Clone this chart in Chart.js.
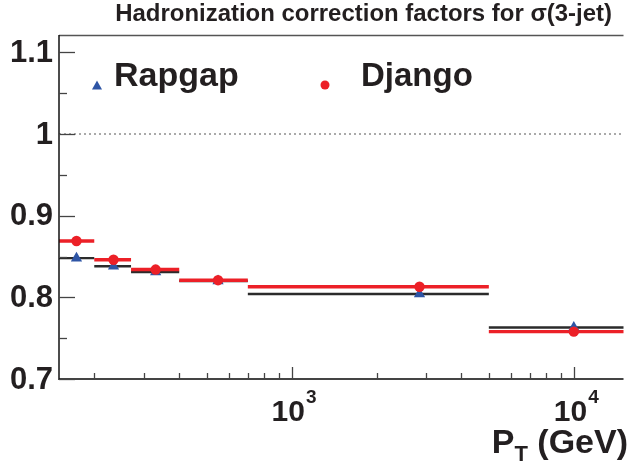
<!DOCTYPE html>
<html>
<head>
<meta charset="utf-8">
<script src="https://cdn.jsdelivr.net/npm/chart.js@4/dist/chart.umd.min.js"></script>
<style>
  html, body { margin: 0; padding: 0; background: #fff; }
  #wrap { width: 630px; height: 462px; }
</style>
</head>
<body>
<div id="wrap"><canvas id="c" width="630" height="462"></canvas></div>
<script>
// PT bins (GeV) and hadronization correction factors per generator
const binLow  = [150, 200, 270, 400, 700, 5000];
const binHigh = [200, 270, 400, 700, 5000, 20000];
const meanPt  = [173, 234, 330, 549, 2840, 10000];
const rapgap  = [0.848, 0.838, 0.831, 0.820, 0.804, 0.763];
const django  = [0.869, 0.846, 0.834, 0.821, 0.813, 0.758];

const yMajorTicks = [0.7, 0.8, 0.9, 1, 1.1];
const yTickLabels = ['0.7', '0.8', '0.9', '1', '1.1'];
const yMinorTicks = [0.75, 0.85, 0.95, 1.05];
const xMajorTicks = [1000, 10000];
const xTickExponents = ['3', '4'];
const xMinorTicks = [200, 300, 400, 500, 600, 700, 800, 900,
                     2000, 3000, 4000, 5000, 6000, 7000, 8000, 9000];
const referenceLevel = [1];
const seriesNames = ['Rapgap', 'Django'];
const titleText = 'Hadronization correction factors for \u03C3(3-jet)';

const RED = '#ec2027';
const BLUE = '#2e55a5';
const DARK = '#2b2b2b';
const INK = '#231f20';
const FONT = '"Liberation Sans", Arial, Helvetica, sans-serif';

// horizontal segments spanning each bin, separated by gaps
function binSegments(values) {
  const pts = [];
  values.forEach((v, i) => {
    pts.push({ x: binLow[i], y: v });
    pts.push({ x: binHigh[i], y: v });
    pts.push({ x: binHigh[i], y: null });
  });
  return pts;
}
function markers(values) {
  return values.map((v, i) => ({ x: meanPt[i], y: v }));
}

const axisPlugin = {
  id: 'axisDecor',
  afterDatasetsDraw(chart) {
    const ctx = chart.ctx;
    const a = chart.chartArea;
    const xs = chart.scales.x, ys = chart.scales.y;
    ctx.save();

    // frame
    ctx.strokeStyle = '#555';
    ctx.lineWidth = 1.5;
    ctx.beginPath(); ctx.moveTo(a.left, a.top - 0.5); ctx.lineTo(a.right, a.top - 0.5); ctx.stroke();
    ctx.strokeStyle = '#444';
    ctx.lineWidth = 2;
    ctx.beginPath(); ctx.moveTo(a.left, a.bottom); ctx.lineTo(a.right, a.bottom); ctx.stroke();
    ctx.strokeStyle = '#111';
    ctx.lineWidth = 1.5;
    ctx.beginPath(); ctx.moveTo(a.left, a.top - 1); ctx.lineTo(a.left, a.bottom + 1); ctx.stroke();

    // y ticks
    ctx.strokeStyle = '#444';
    ctx.lineWidth = 1.3;
    yMajorTicks.forEach(v => {
      const y = Math.round(ys.getPixelForValue(v)) + 0.5;
      ctx.beginPath(); ctx.moveTo(a.left, y); ctx.lineTo(a.left + 16, y); ctx.stroke();
    });
    yMinorTicks.forEach(v => {
      const y = Math.round(ys.getPixelForValue(v)) + 0.5;
      ctx.beginPath(); ctx.moveTo(a.left, y); ctx.lineTo(a.left + 8, y); ctx.stroke();
    });
    // x ticks
    xMajorTicks.forEach(v => {
      const x = Math.round(xs.getPixelForValue(v)) + 0.5;
      ctx.beginPath(); ctx.moveTo(x, a.bottom); ctx.lineTo(x, a.bottom - 12); ctx.stroke();
    });
    xMinorTicks.forEach(v => {
      const x = Math.round(xs.getPixelForValue(v)) + 0.5;
      ctx.beginPath(); ctx.moveTo(x, a.bottom); ctx.lineTo(x, a.bottom - 6); ctx.stroke();
    });

    // y tick labels
    ctx.fillStyle = INK;
    ctx.font = 'bold 31px ' + FONT;
    ctx.textAlign = 'right';
    ctx.textBaseline = 'middle';
    yMajorTicks.forEach((v, i) => {
      ctx.fillText(yTickLabels[i], a.left - 6, ys.getPixelForValue(v) + 1);
    });

    // x tick labels: 10^n
    ctx.textBaseline = 'alphabetic';
    xMajorTicks.forEach((v, i) => {
      const x = xs.getPixelForValue(v);
      ctx.font = 'bold 30px ' + FONT;
      const wBase = ctx.measureText('10').width;
      ctx.font = 'bold 19px ' + FONT;
      const wExp = ctx.measureText(xTickExponents[i]).width;
      const start = x - (wBase + wExp) / 2 + 2;
      ctx.textAlign = 'left';
      ctx.font = 'bold 30px ' + FONT;
      ctx.fillText('10', start, a.bottom + 42);
      ctx.font = 'bold 19px ' + FONT;
      ctx.fillText(xTickExponents[i], start + wBase + 1, a.bottom + 24);
    });

    // x axis title: P_T (GeV)
    ctx.textAlign = 'left';
    ctx.font = 'bold 34px ' + FONT;
    const wP = ctx.measureText('P').width;
    const wRest = ctx.measureText(' (GeV)').width;
    ctx.font = 'bold 22px ' + FONT;
    const wT = ctx.measureText('T').width;
    const x0 = 628 - (wP + wT + wRest);
    ctx.font = 'bold 34px ' + FONT;
    ctx.fillText('P', x0, 453);
    ctx.fillText(' (GeV)', x0 + wP + wT, 453);
    ctx.font = 'bold 22px ' + FONT;
    ctx.fillText('T', x0 + wP, 461);

    // title, sized to span its slot above the frame
    let fs = 24;
    ctx.font = 'bold ' + fs + 'px ' + FONT;
    fs = fs * 497 / ctx.measureText(titleText).width;
    ctx.font = 'bold ' + fs.toFixed(2) + 'px ' + FONT;
    ctx.textAlign = 'right';
    ctx.fillText(titleText, 612, 21);

    // legend
    ctx.fillStyle = BLUE;
    ctx.beginPath();
    ctx.moveTo(97, 80.5); ctx.lineTo(102, 89.5); ctx.lineTo(92, 89.5); ctx.closePath(); ctx.fill();
    ctx.fillStyle = RED;
    ctx.beginPath(); ctx.arc(325, 85, 4.5, 0, Math.PI * 2); ctx.fill();
    ctx.fillStyle = INK;
    ctx.font = 'bold 34px ' + FONT;
    ctx.textAlign = 'left';
    ctx.fillText(seriesNames[0], 114, 86);
    ctx.font = 'bold 33px ' + FONT;
    ctx.fillText(seriesNames[1], 361, 86);

    ctx.restore();
  }
};

new Chart(document.getElementById('c'), {
  type: 'line',
  data: {
    datasets: [
      {
        label: 'ref',
        data: [{ x: 150, y: referenceLevel[0] }, { x: 15000, y: referenceLevel[0] }],
        borderColor: '#555', borderWidth: 1, borderDash: [2, 3],
        pointRadius: 0, order: 10
      },
      {
        label: seriesNames[0] + ' bins',
        data: binSegments(rapgap),
        borderColor: DARK, borderWidth: 2.4,
        pointRadius: 0, spanGaps: false, order: 9
      },
      {
        label: seriesNames[1] + ' bins',
        data: binSegments(django),
        borderColor: RED, borderWidth: 3.4,
        pointRadius: 0, spanGaps: false, order: 8
      },
      {
        label: seriesNames[0],
        data: markers(rapgap),
        showLine: false, pointStyle: 'triangle', pointRadius: 6.5,
        backgroundColor: BLUE, borderColor: BLUE, borderWidth: 0, order: 7
      },
      {
        label: seriesNames[1],
        data: markers(django),
        showLine: false, pointStyle: 'circle', pointRadius: 5.2,
        backgroundColor: RED, borderColor: RED, borderWidth: 0, order: 6
      }
    ]
  },
  options: {
    responsive: false,
    animation: false,
    devicePixelRatio: 1,
    layout: { padding: { top: 36, right: 0, left: 0, bottom: 0 } },
    plugins: { legend: { display: false }, tooltip: { enabled: false }, title: { display: false } },
    scales: {
      x: {
        type: 'logarithmic', min: 150, max: 15000,
        ticks: { display: false }, grid: { display: false }, border: { display: false },
        afterFit: s => { s.height = 83; }
      },
      y: {
        type: 'linear', min: 0.7, max: 1.12,
        ticks: { display: false }, grid: { display: false }, border: { display: false },
        afterFit: s => { s.width = 59; }
      }
    }
  },
  plugins: [axisPlugin]
});
</script>
</body>
</html>
